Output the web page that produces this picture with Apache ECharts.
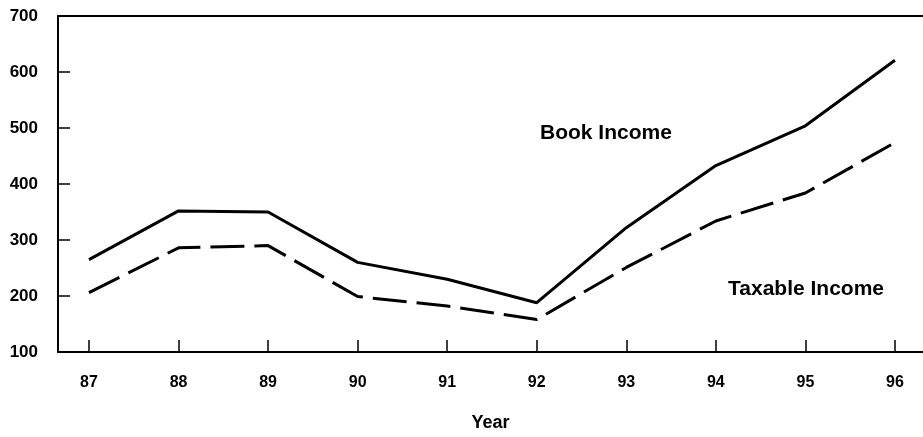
<!DOCTYPE html>
<html>
<head>
<meta charset="utf-8">
<script src="https://cdn.jsdelivr.net/npm/echarts@6/dist/echarts.min.js"></script>
<style>
  html, body { margin: 0; padding: 0; background: #fff; }
  #chart { width: 923px; height: 437px; }
</style>
</head>
<body>
<div id="chart"></div>
<script>
// data
var years = ['87', '88', '89', '90', '91', '92', '93', '94', '95', '96'];
var bookIncome = [265, 352, 350, 260, 230, 188, 322, 433, 504, 621];
var taxableIncome = [206, 286, 290, 199, 182, 158, 251, 334, 384, 474];
var yTicks = [100, 200, 300, 400, 500, 600, 700];

var yearNums = years.map(function (y) { return Number(y); });

function pairs(vals) {
  return vals.map(function (v, i) { return [yearNums[i], v]; });
}

var font = 'Liberation Sans, Arial, sans-serif';

var chart = echarts.init(document.getElementById('chart'));
var option = {
  backgroundColor: '#fff',
  animation: false,
  grid: { left: 58, top: 16, right: 0, bottom: 84 },
  xAxis: [
    {
      type: 'value',
      min: 86.654,
      max: 96.313,
      name: 'Year',
      nameLocation: 'middle',
      nameGap: 62,
      nameTextStyle: { color: '#000', fontSize: 18, fontWeight: 'bold', fontFamily: font },
      axisLine: { show: true, lineStyle: { color: '#000', width: 2 } },
      axisTick: { show: true, inside: true, length: 12, customValues: yearNums, lineStyle: { color: '#000', width: 1.5 } },
      axisLabel: {
        customValues: yearNums,
        margin: 23,
        color: '#000', fontSize: 16, fontWeight: 'bold', fontFamily: font,
        formatter: function (v) { return String(Math.round(v)); }
      },
      splitLine: { show: false }
    },
    {
      // top border of the frame
      type: 'value',
      position: 'top',
      min: 86.654,
      max: 96.313,
      axisLine: { show: true, lineStyle: { color: '#000', width: 2 } },
      axisTick: { show: false },
      axisLabel: { show: false },
      splitLine: { show: false }
    }
  ],
  yAxis: {
    type: 'value',
    min: 100,
    max: 700,
    interval: 100,
    axisLine: { show: true, lineStyle: { color: '#000', width: 2 } },
    axisTick: { show: true, inside: true, length: 12, lineStyle: { color: '#000', width: 1.5 } },
    axisLabel: {
      margin: 20,
      color: '#000', fontSize: 17, fontWeight: 'bold', fontFamily: font,
      formatter: function (v) { return yTicks.indexOf(v) >= 0 ? String(v) : ''; }
    },
    splitLine: { show: false }
  },
  series: [
    {
      name: 'Book Income',
      type: 'line',
      data: pairs(bookIncome),
      symbol: 'none',
      lineStyle: { color: '#000', width: 3 }
    },
    {
      name: 'Taxable Income',
      type: 'line',
      data: pairs(taxableIncome),
      symbol: 'none',
      lineStyle: { color: '#000', width: 3, type: [34, 10] }
    }
  ],
  graphic: [
    {
      type: 'text', left: 540, top: 123,
      style: { text: 'Book Income', fill: '#000', font: 'bold 21px ' + font }
    },
    {
      type: 'text', left: 728, top: 279,
      style: { text: 'Taxable Income', fill: '#000', font: 'bold 21px ' + font }
    }
  ]
};
chart.setOption(option);
</script>
</body>
</html>
